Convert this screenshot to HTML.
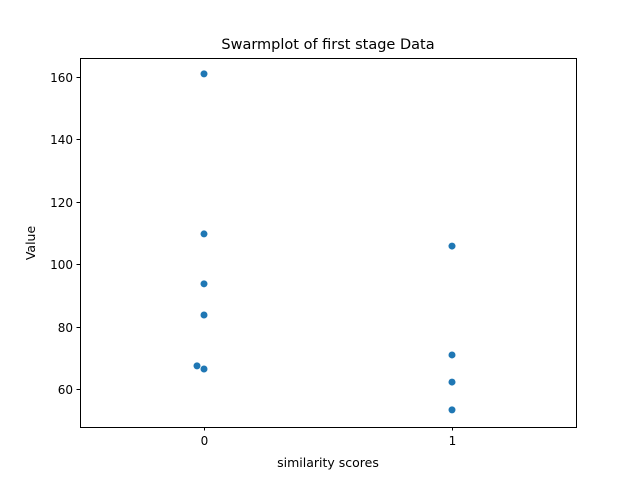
<!DOCTYPE html>
<html><head><meta charset="utf-8"><style>
html,body{margin:0;padding:0;background:#fff}
svg text{font-family:"DejaVu Sans","Liberation Sans",sans-serif;fill:#000}
</style></head><body>
<svg id="chart" width="640" height="480" xmlns="http://www.w3.org/2000/svg">
<rect x="0" y="0" width="640" height="480" fill="#fff"/>
<text x="328" y="49" font-size="14.5" text-anchor="middle">Swarmplot of first stage Data</text>
<g id="ticks"></g>
<g id="points"></g>
<rect x="80.5" y="58.5" width="496" height="369" fill="none" stroke="#000" stroke-width="1"/>
<text x="328" y="467" font-size="12.5" text-anchor="middle">similarity scores</text>
<text x="35" y="243" font-size="12.5" text-anchor="middle" transform="rotate(-90 35 243)">Value</text>
</svg>
<script>
const categories = ["0", "1"];
const values0 = [161, 109.7, 93.7, 83.7, 67.4, 66.4];
const values1 = [105.8, 70.9, 62.2, 53.3];
const yTicks = [60, 80, 100, 120, 140, 160];

const L = 80, R = 576, T = 58, B = 427;
const yMin = 47.8, yMax = 166.1;
function xScale(i){ return L + (i + 0.5) / 2 * (R - L); }
function yScale(v){ return B - (v - yMin) / (yMax - yMin) * (B - T); }
const NS = "http://www.w3.org/2000/svg";
const tg = document.getElementById('ticks');
const pg = document.getElementById('points');

yTicks.forEach(t => {
  const y = Math.round(yScale(t)) + 0.5;
  const ln = document.createElementNS(NS, 'line');
  ln.setAttribute('x1', L - 3.5); ln.setAttribute('x2', L); ln.setAttribute('y1', y); ln.setAttribute('y2', y);
  ln.setAttribute('stroke', '#000');
  
  
  tg.appendChild(ln);
  const tx = document.createElementNS(NS, 'text');
  tx.setAttribute('x', L - 7); tx.setAttribute('y', y + 4.5);
  tx.setAttribute('font-size', '12'); tx.setAttribute('text-anchor', 'end');
  tx.textContent = t;
  
  
  tg.appendChild(tx);
});
categories.forEach((c, i) => {
  const x = Math.round(xScale(i)) + 0.5;
  const ln = document.createElementNS(NS, 'line');
  ln.setAttribute('x1', x); ln.setAttribute('x2', x); ln.setAttribute('y1', B); ln.setAttribute('y2', B + 3.5);
  ln.setAttribute('stroke', '#000');
  
  
  tg.appendChild(ln);
  const tx = document.createElementNS(NS, 'text');
  tx.setAttribute('x', x); tx.setAttribute('y', B + 18);
  tx.setAttribute('font-size', '12'); tx.setAttribute('text-anchor', 'middle');
  tx.textContent = c;
  
  
  tg.appendChild(tx);
});

const D = 7;
[values0, values1].forEach((vals, ci) => {
  const cx = xScale(ci);
  const placed = [];
  vals.slice().sort((a, b) => a - b).forEach(v => {
    const y = yScale(v);
    let off = 0;
    const cands = [0];
    for (let s = 1; s < 10; s++){ cands.push(-s * D, s * D); }
    for (const o of cands){
      if (placed.every(p => Math.hypot(p[0] - (cx + o), p[1] - y) >= D)){ off = o; break; }
    }
    placed.push([cx + off, y]);
    const c = document.createElementNS(NS, 'circle');
    c.setAttribute('cx', cx + off); c.setAttribute('cy', y); c.setAttribute('r', 3.5);
    c.setAttribute('fill', '#1f77b4');
    
    
    pg.appendChild(c);
  });
});
</script>
</body></html>
